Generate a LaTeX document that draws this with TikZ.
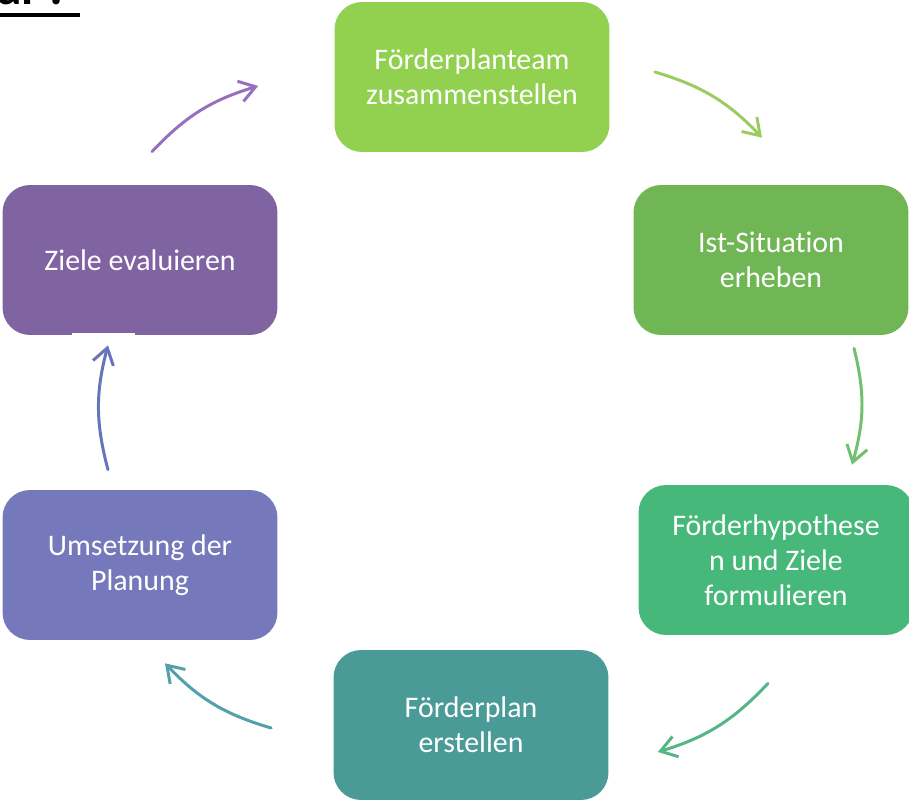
\documentclass[tikz,border=0pt]{standalone}
\usepackage{fontspec}
\setmainfont{Carlito}[Ligatures=NoCommon]
\usetikzlibrary{positioning,arrows.meta,calc}

\definecolor{teamgreen}{RGB}{146,208,80}
\definecolor{istgreen}{RGB}{112,182,84}
\definecolor{hypgreen}{RGB}{70,184,122}
\definecolor{planteal}{RGB}{74,155,152}
\definecolor{umsblue}{RGB}{117,121,187}
\definecolor{zielpurple}{RGB}{128,100,162}

\definecolor{arrpurple}{RGB}{150,112,190}
\definecolor{arrlight}{RGB}{156,204,96}
\definecolor{arrgreen}{RGB}{112,192,112}
\definecolor{arrmint}{RGB}{84,182,134}
\definecolor{arrteal}{RGB}{84,160,170}
\definecolor{arrblue}{RGB}{102,116,186}

\begin{document}
\begin{tikzpicture}[x=0.02cm,y=-0.02cm,
    stepbox/.style={rectangle,rounded corners=0.55cm,minimum width=5.5cm,
      minimum height=3cm,text=white,align=center,
      font=\fontsize{17}{19.9}\selectfont},
    cyc/.style={line width=1.7pt,line cap=round,bend left=15,
      -{Straight Barb[length=9pt,width=12pt]}}]
  \useasboundingbox (0,0) rectangle (909,801);

  % cut heading
  \begin{scope}
    \clip (0,0) rectangle (909,801);
    \node[anchor=base west,inner sep=0,font=\bfseries\fontsize{28}{30}\selectfont]
      (head) at (-3,5) {al\hspace{0.3cm}!};
    \draw[line width=0.07cm] (0,15) -- (80,15);
  \end{scope}

  \node[stepbox,fill=teamgreen] (team) at (472,77) {Förderplanteam\\zusammenstellen};
  \node[stepbox,fill=istgreen] (ist) at (771,260) {Ist-Situation\\erheben};
  \node[stepbox,fill=hypgreen] (hyp) at (776,560) {Förderhypothese\\n und Ziele\\formulieren};
  \node[stepbox,fill=planteal] (plan) at (471,725) {Förderplan\\erstellen};
  \node[stepbox,fill=umsblue] (ums) at (140,565) {Umsetzung der\\Planung};
  \node[stepbox,fill=zielpurple] (ziele) at (140,260) {Ziele evaluieren};
  \fill[white] ($(ziele.south)+(-68,-2)$) rectangle ($(ziele.south)+(-5,3)$);

  % cycle arrows
  \draw[cyc,arrpurple] ($(ziele.north)+(12,-33)$) to ($(team.west)+(-76,9)$);
  \draw[cyc,arrlight] ($(team.east)+(45,-5)$) to ($(ist.north)+(-9,-47)$);
  \draw[cyc,arrgreen] ($(ist.south)+(83,13)$) to ($(hyp.north)+(76,-20)$);
  \draw[cyc,arrmint] ($(hyp.south)+(-8,48)$) to ($(plan.east)+(49,27)$);
  \draw[cyc,arrteal] ($(plan.west)+(-62,3)$) to ($(ums.south)+(25,23)$);
  \draw[cyc,arrblue] ($(ums.north)+(-32,-20)$) to ($(ziele.south)+(-32,10)$);
\end{tikzpicture}
\end{document}
